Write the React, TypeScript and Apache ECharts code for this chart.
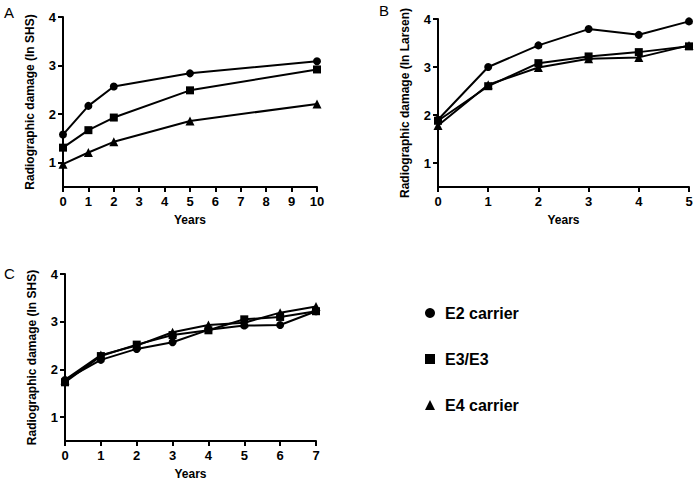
import React, { useEffect, useRef } from "react";
import * as echarts from "echarts";

const seriesNames = ["E2 carrier", "E3/E3", "E4 carrier"];
const symbols = ["circle", "rect", "triangle"];

const yearsA = [0, 1, 2, 5, 10];
const a_E2 = [1.58, 2.17, 2.57, 2.84, 3.09];
const a_E33 = [1.31, 1.67, 1.93, 2.49, 2.92];
const a_E4 = [0.97, 1.21, 1.43, 1.86, 2.21];

const yearsB = [0, 1, 2, 3, 4, 5];
const b_E2 = [1.9, 3.0, 3.45, 3.79, 3.67, 3.95];
const b_E33 = [1.88, 2.6, 3.08, 3.22, 3.31, 3.43];
const b_E4 = [1.78, 2.63, 2.99, 3.17, 3.2, 3.45];

const yearsC = [0, 1, 2, 3, 4, 5, 6, 7];
const c_E2 = [1.78, 2.2, 2.43, 2.57, 2.83, 2.92, 2.93, 3.22];
const c_E33 = [1.73, 2.28, 2.52, 2.72, 2.82, 3.05, 3.1, 3.22];
const c_E4 = [1.78, 2.3, 2.5, 2.78, 2.93, 2.98, 3.19, 3.32];

const yTicks = [1, 2, 3, 4];
const panelLabels = ["A", "B", "C"];
const yNames = ["Radiographic damage (ln SHS)", "Radiographic damage (ln Larsen)", "Radiographic damage (ln SHS)"];
const xName = "Years";

const FONT = "Liberation Sans, Arial, sans-serif";

export default function App() {
  const ref = useRef<HTMLDivElement>(null);
  useEffect(() => {
    if (!ref.current) return;
    const chart = echarts.init(ref.current, null, { renderer: "svg" });
    const grids = [
      { left: 63, top: 17, width: 254, height: 170 },
      { left: 438, top: 19, width: 251, height: 168 },
      { left: 65, top: 274, width: 251, height: 168 },
    ];
    const xMax = [10, 5, 7];
    const axisCommon = {
      axisLine: { lineStyle: { color: "#000", width: 2 } },
      axisTick: { lineStyle: { color: "#000", width: 2 }, length: 5, inside: false },
      splitLine: { show: false },
    };
    const xAxis = grids.map((_, i) => ({
      type: "value",
      gridIndex: i,
      min: 0,
      max: xMax[i],
      interval: 1,
      ...axisCommon,
      axisLabel: { color: "#000", fontFamily: FONT, fontWeight: "bold", fontSize: 13, margin: 8 },
      name: xName,
      nameLocation: "middle",
      nameGap: 27,
      nameTextStyle: { color: "#000", fontFamily: FONT, fontWeight: "bold", fontSize: 12 },
    }));
    const yAxis = grids.map((_, i) => ({
      type: "value",
      gridIndex: i,
      min: 0.5,
      max: 4,
      ...axisCommon,
      axisTick: { ...axisCommon.axisTick, customValues: yTicks },
      axisLabel: { color: "#000", fontFamily: FONT, fontWeight: "bold", fontSize: 13, margin: 7, customValues: yTicks },
      name: yNames[i],
      nameLocation: "middle",
      nameGap: 27,
      nameTextStyle: { color: "#000", fontFamily: FONT, fontWeight: "bold", fontSize: 12 },
    }));
    const panels = [
      { x: yearsA, ys: [a_E2, a_E33, a_E4] },
      { x: yearsB, ys: [b_E2, b_E33, b_E4] },
      { x: yearsC, ys: [c_E2, c_E33, c_E4] },
    ];
    const series: any[] = [];
    panels.forEach((p, gi) => {
      p.ys.forEach((vals, si) => {
        series.push({
          type: "line",
          name: seriesNames[si],
          xAxisIndex: gi,
          yAxisIndex: gi,
          data: p.x.map((x, k) => [x, vals[k]]),
          symbol: symbols[si],
          symbolSize: si === 2 ? 9 : 8,
          showSymbol: true,
          clip: false,
          lineStyle: { color: "#000", width: 2 },
          itemStyle: { color: "#000" },
          z: 3 - si,
        });
      });
    });
    chart.setOption({
      animation: false,
      grid: grids,
      xAxis,
      yAxis,
      series,
      legend: {
        orient: "vertical",
        left: 420,
        top: 300,
        itemWidth: 10,
        itemHeight: 10,
        itemGap: 30,
        selectedMode: false,
        textStyle: { color: "#000", fontFamily: FONT, fontWeight: "bold", fontSize: 16, padding: [0, 0, 0, 5] },
        data: seriesNames.map((n, i) => ({ name: n, icon: symbols[i] })),
      },
      graphic: [
        { type: "text", left: 4, top: 5, style: { text: panelLabels[0], fontFamily: FONT, fontSize: 15, fill: "#000" } },
        { type: "text", left: 379, top: 3, style: { text: panelLabels[1], fontFamily: FONT, fontSize: 15, fill: "#000" } },
        { type: "text", left: 4, top: 266, style: { text: panelLabels[2], fontFamily: FONT, fontSize: 15, fill: "#000" } },
      ],
    });
    return () => chart.dispose();
  }, []);
  return <div ref={ref} style={{ width: 696, height: 481, position: "absolute", left: 0, top: 0 }} />;
}
